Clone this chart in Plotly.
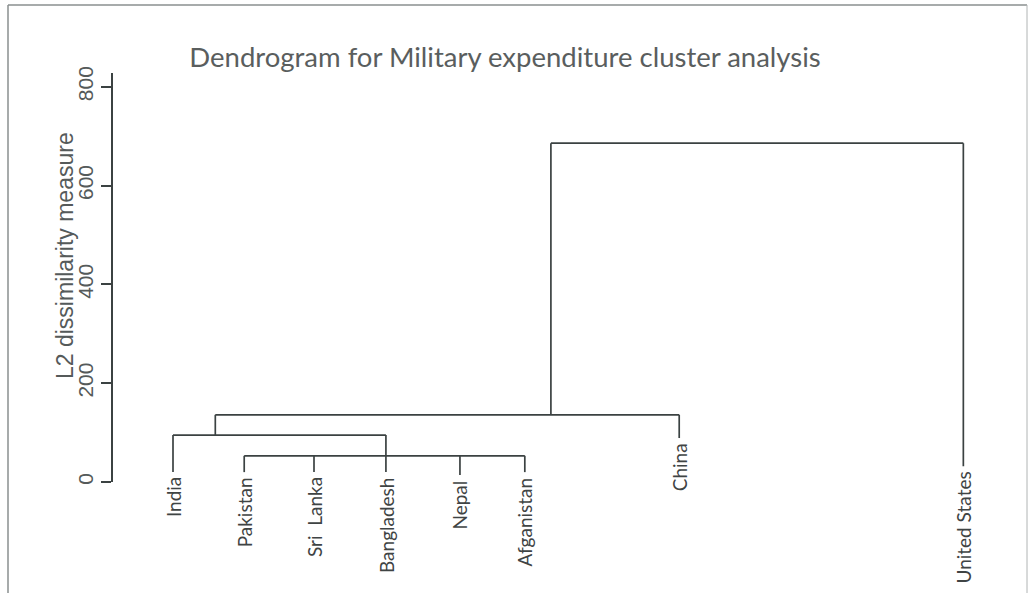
import plotly.graph_objects as go

# ---- data ----
leaves = ["India", "Pakistan", "Sri\u00a0\u00a0Lanka", "Bangladesh", "Nepal",
          "Afganistan", "China", "United States"]
leaf_x = [1.00, 2.01, 3.00, 4.02, 5.07, 5.99, 8.18, 12.21]
leaf_end = [20, 20, 20, 20, 14, 20, 89, 32]

# merges: children refer to leaves ("L", i) or earlier merges ("M", j)
merge_children = [
    [("L", 1), ("L", 2), ("L", 3), ("L", 4), ("L", 5)],
    [("L", 0), ("M", 0)],
    [("M", 1), ("L", 6)],
    [("M", 2), ("L", 7)],
]
merge_height = [53, 95, 136, 686]
merge_stem_x = [4.02, 1.60, 6.36, 9.3]

y_ticks = [0, 200, 400, 600, 800]
title_text = "Dendrogram for Military expenditure cluster analysis"
y_title = "L2 dissimilarity measure"

LINE = "#3b4242"
TXT = "#555a5a"

# ---- build segments ----
xs, ys = [], []
def child_pos(c):
    kind, i = c
    if kind == "L":
        return leaf_x[i], leaf_end[i]
    return merge_stem_x[i], merge_height[i]

for j, kids in enumerate(merge_children):
    h = merge_height[j]
    pts = [child_pos(c) for c in kids]
    cx = [p[0] for p in pts]
    xs += [min(cx), max(cx), None]
    ys += [h, h, None]
    for (x, y0) in pts:
        xs += [x, x, None]
        ys += [y0, h, None]

fig = go.Figure()
fig.add_trace(go.Scatter(x=xs, y=ys, mode="lines",
                         line=dict(color=LINE, width=1.7),
                         hoverinfo="skip", showlegend=False))

for name, x, y in zip(leaves, leaf_x, leaf_end):
    fig.add_annotation(x=x, y=y, xref="x", yref="y", text=name,
                       showarrow=False, textangle=-90,
                       xanchor="center", yanchor="top", yshift=-3,
                       font=dict(family="Lato", size=19, color="#3f4444"))

L, R, T, B = 113, 30, 73, 111
W = 1030 - L - R
H = 593 - T - B

def px2paper(px, py):
    return (px - L) / W, (593 - B - py) / H

fig.add_annotation(x=px2paper(65, 0)[0], y=px2paper(0, 256)[1],
                   xref="paper", yref="paper", text=y_title,
                   showarrow=False, textangle=-90,
                   xanchor="center", yanchor="middle",
                   font=dict(family="Liberation Sans", size=23, color=TXT))

# scan border
lx, ty = px2paper(8, 5)
rx, by = px2paper(1027, 600)
fig.add_shape(type="line", xref="paper", yref="paper", x0=lx, x1=lx, y0=by, y1=ty,
              line=dict(color="#8a8f8f", width=1.5))
fig.add_shape(type="line", xref="paper", yref="paper", x0=lx, x1=rx, y0=ty, y1=ty,
              line=dict(color="#8a8f8f", width=1.5))
fig.add_shape(type="line", xref="paper", yref="paper", x0=rx, x1=rx, y0=by, y1=ty,
              line=dict(color="#b0b4b4", width=1))

fig.update_layout(
    width=1030, height=593,
    margin=dict(l=L, r=R, t=T, b=B, autoexpand=False),
    paper_bgcolor="white", plot_bgcolor="white",
    title=dict(text=title_text, x=505 / 1030, xanchor="center",
               y=1 - 57 / 593, yanchor="middle", xref="container", yref="container",
               font=dict(family="Lato", size=27.5, color="#5a5e5e")),
    xaxis=dict(range=[0.149, 12.73], visible=False),
    yaxis=dict(range=[0, 828], showgrid=False, zeroline=False,
               showline=True, linecolor=LINE, linewidth=1.5,
               ticks="outside", ticklen=10, tickwidth=1.5, tickcolor=LINE,
               tickvals=y_ticks, ticktext=[str(v) for v in y_ticks],
               tickangle=-90, automargin=False,
               tickfont=dict(family="Liberation Sans", size=21, color=TXT)),
)

fig.write_html("out.html", config={"displayModeBar": False},
               post_script="document.body.style.margin='0';document.body.style.overflow='hidden';")
